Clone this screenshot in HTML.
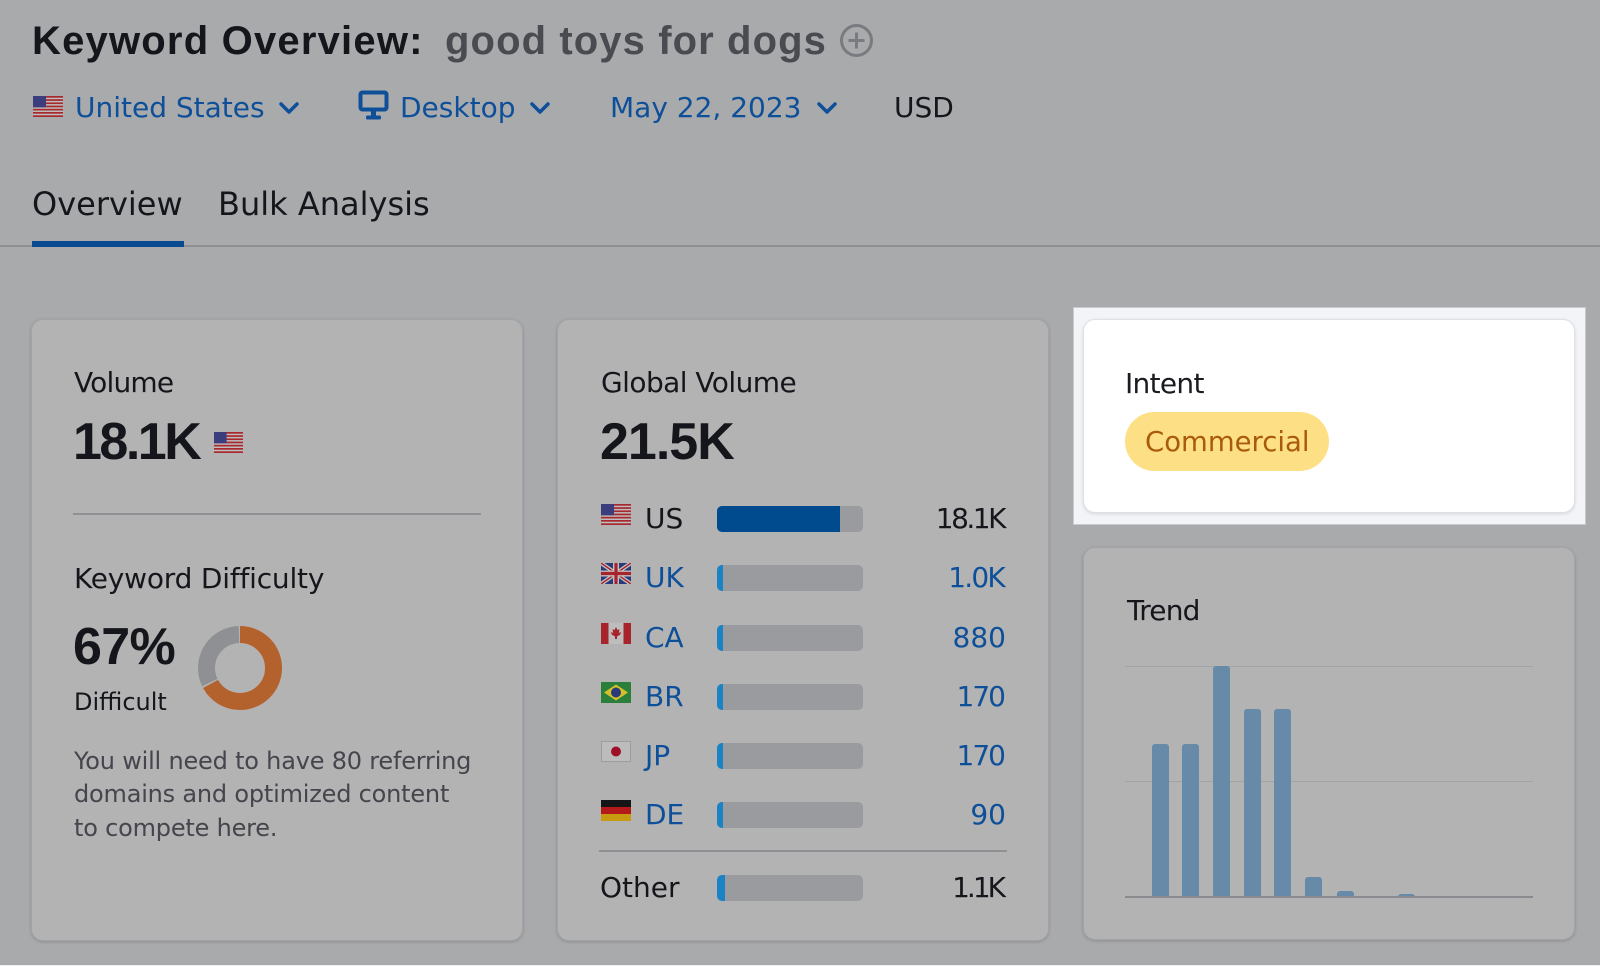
<!DOCTYPE html>
<html><head><meta charset="utf-8">
<style>
*{margin:0;padding:0;box-sizing:border-box}
html,body{width:1600px;height:966px;overflow:hidden;background:#a9aaac}
body{position:relative;font-family:"DejaVu Sans","Liberation Sans",sans-serif;color:#15161b}
.a{position:absolute;white-space:nowrap;line-height:1}
.lib{font-family:"Liberation Sans",sans-serif}
.b{font-weight:bold}
.blue{color:#0e4f99}
.card{position:absolute;background:#b3b3b3;border:1px solid #a3a4a7;border-radius:12px;box-shadow:0 1px 3px rgba(0,0,0,0.18)}
.track{position:absolute;left:717px;width:146px;height:26px;background:#9a9b9f;border-radius:5px;overflow:hidden}
.track i{position:absolute;left:0;top:0;bottom:0;background:#1b83c5}
.val{position:absolute;right:594px;text-align:right;font-size:28px;line-height:1;white-space:nowrap}
.lbl{position:absolute;left:645px;font-size:28px;line-height:1}
.flag{position:absolute;left:601px}
.bar{position:absolute;width:17px;background:#678aa9;border-radius:3px 3px 0 0}
</style></head><body>

<!-- Header -->
<div class="a lib b" style="left:32px;top:21px;font-size:40px;letter-spacing:1.2px;color:#15161b">Keyword Overview:</div>
<div class="a lib b" style="left:445px;top:21px;font-size:40px;letter-spacing:1.1px;color:#4a4b51">good toys for dogs</div>
<svg class="a" style="left:839px;top:23px" width="35" height="35" viewBox="0 0 35 35">
<circle cx="17.5" cy="17.5" r="15" fill="none" stroke="#7a7b80" stroke-width="3"/>
<path d="M17.5 9.5v16M9.5 17.5h16" stroke="#7a7b80" stroke-width="3"/>
</svg>

<!-- Row 2 -->
<svg class="a" style="left:33px;top:96px" width="30" height="21" viewBox="0 0 30 21">
<rect width="30" height="21" fill="#bdbdbd"/>
<g fill="#a8282e"><rect y="0" width="30" height="1.7"/><rect y="3.2" width="30" height="1.7"/><rect y="6.4" width="30" height="1.7"/><rect y="9.6" width="30" height="1.7"/><rect y="12.8" width="30" height="1.7"/><rect y="16" width="30" height="1.7"/><rect y="19.3" width="30" height="1.7"/></g>
<rect width="13" height="11.3" fill="#3b3d7c"/>
</svg>
<div class="a blue" style="left:75px;top:94px;font-size:28px">United States</div>
<svg class="a" style="left:278px;top:101px" width="22" height="14" viewBox="0 0 22 14"><polyline points="3,3 11,11 19,3" fill="none" stroke="#0e4f99" stroke-width="3.5" stroke-linecap="round" stroke-linejoin="round"/></svg>

<svg class="a" style="left:358px;top:90px" width="31" height="31" viewBox="0 0 31 31">
<rect x="2.5" y="2.5" width="26" height="17" rx="2" fill="none" stroke="#0e4f99" stroke-width="4"/>
<rect x="13" y="21" width="5" height="5" fill="#0e4f99"/>
<rect x="8" y="25.5" width="15" height="4" rx="1.5" fill="#0e4f99"/>
</svg>
<div class="a blue" style="left:400px;top:94px;font-size:28px">Desktop</div>
<svg class="a" style="left:529px;top:101px" width="22" height="14" viewBox="0 0 22 14"><polyline points="3,3 11,11 19,3" fill="none" stroke="#0e4f99" stroke-width="3.5" stroke-linecap="round" stroke-linejoin="round"/></svg>

<div class="a blue" style="left:610px;top:94px;font-size:28px">May 22, 2023</div>
<svg class="a" style="left:816px;top:101px" width="22" height="14" viewBox="0 0 22 14"><polyline points="3,3 11,11 19,3" fill="none" stroke="#0e4f99" stroke-width="3.5" stroke-linecap="round" stroke-linejoin="round"/></svg>

<div class="a" style="left:894px;top:94px;font-size:28px;color:#15161b">USD</div>

<!-- Tabs -->
<div class="a" style="left:32px;top:188px;font-size:32px">Overview</div>
<div class="a" style="left:218px;top:188px;font-size:32px">Bulk Analysis</div>
<div class="a" style="left:0;top:245px;width:1600px;height:2px;background:#8f9094"></div>
<div class="a" style="left:32px;top:241px;width:152px;height:6px;background:#0a4a91"></div>

<!-- Card 1 -->
<div class="card" style="left:31px;top:319px;width:492px;height:622px"></div>
<div class="a" style="left:74px;top:369px;font-size:28px;letter-spacing:-0.8px">Volume</div>
<div class="a lib b" style="left:73px;top:416px;font-size:52px;letter-spacing:-2.5px">18.1K</div>
<svg class="a" style="left:214px;top:432px" width="29" height="21" viewBox="0 0 30 21" preserveAspectRatio="none">
<rect width="30" height="21" fill="#bdbdbd"/>
<g fill="#a8282e"><rect y="0" width="30" height="1.7"/><rect y="3.2" width="30" height="1.7"/><rect y="6.4" width="30" height="1.7"/><rect y="9.6" width="30" height="1.7"/><rect y="12.8" width="30" height="1.7"/><rect y="16" width="30" height="1.7"/><rect y="19.3" width="30" height="1.7"/></g>
<rect width="13" height="11.3" fill="#3b3d7c"/>
</svg>
<div class="a" style="left:73px;top:513px;width:408px;height:2px;background:#8f9093"></div>
<div class="a" style="left:74px;top:565px;font-size:28px;letter-spacing:-0.2px">Keyword Difficulty</div>
<div class="a lib b" style="left:73px;top:621px;font-size:52px;letter-spacing:-0.7px">67%</div>
<svg class="a" style="left:196px;top:624px" width="88" height="88" viewBox="0 0 88 88">
<g transform="rotate(-90 44 44)">
<circle cx="44" cy="44" r="33.5" fill="none" stroke="#b4622d" stroke-width="17" stroke-dasharray="141 69.5"/>
<circle cx="44" cy="44" r="33.5" fill="none" stroke="#8f9094" stroke-width="17" stroke-dasharray="0 142.5 66.5 1.5"/>
</g>
</svg>
<div class="a" style="left:74px;top:690px;font-size:24px">Difficult</div>
<div class="a" style="left:74px;top:745px;font-size:24px;line-height:33.3px;letter-spacing:-0.2px;color:#45464d">You will need to have 80 referring<br>domains and optimized content<br>to compete here.</div>

<!-- Card 2 -->
<div class="card" style="left:557px;top:319px;width:492px;height:622px"></div>
<div class="a" style="left:601px;top:369px;font-size:28px;letter-spacing:-0.55px">Global Volume</div>
<div class="a lib b" style="left:600px;top:416px;font-size:52px;letter-spacing:-1px">21.5K</div>

<!-- US row -->
<svg class="flag" style="top:504px" width="30" height="21" viewBox="0 0 30 21">
<rect width="30" height="21" fill="#bdbdbd"/>
<g fill="#a8282e"><rect y="0" width="30" height="1.7"/><rect y="3.2" width="30" height="1.7"/><rect y="6.4" width="30" height="1.7"/><rect y="9.6" width="30" height="1.7"/><rect y="12.8" width="30" height="1.7"/><rect y="16" width="30" height="1.7"/><rect y="19.3" width="30" height="1.7"/></g>
<rect width="13" height="11.3" fill="#3b3d7c"/>
</svg>
<div class="lbl" style="top:505px">US</div>
<div class="track" style="top:506px"><i style="width:123px;background:#004b8e"></i></div>
<div class="val" style="top:505px;color:#15161b;letter-spacing:-2.5px;right:596px">18.1K</div>

<!-- UK row -->
<svg class="flag" style="top:563px" width="30" height="21" viewBox="0 0 30 21">
<rect width="30" height="21" fill="#2a3a78"/>
<path d="M0 0L30 21M30 0L0 21" stroke="#c0c0c0" stroke-width="4"/>
<path d="M0 0L30 21M30 0L0 21" stroke="#a8242c" stroke-width="1.4"/>
<path d="M15 0V21M0 10.5H30" stroke="#c0c0c0" stroke-width="6"/>
<path d="M15 0V21M0 10.5H30" stroke="#a8242c" stroke-width="3.2"/>
</svg>
<div class="lbl blue" style="top:564px">UK</div>
<div class="track" style="top:565px"><i style="width:6px"></i></div>
<div class="val blue" style="top:564px;letter-spacing:-1.8px;right:596px">1.0K</div>

<!-- CA row -->
<svg class="flag" style="top:623px" width="30" height="21" viewBox="0 0 30 21">
<rect width="30" height="21" fill="#bdbdbd"/>
<rect width="7.5" height="21" fill="#a8242c"/><rect x="22.5" width="7.5" height="21" fill="#a8242c"/>
<path d="M15 4L16.5 7L18.5 6.2L17.8 10L20 9L19.3 11.5L16 13.5V16H14V13.5L10.7 11.5L10 9L12.2 10L11.5 6.2L13.5 7Z" fill="#a8242c"/>
</svg>
<div class="lbl blue" style="top:624px">CA</div>
<div class="track" style="top:625px"><i style="width:6px"></i></div>
<div class="val blue" style="top:624px">880</div>

<!-- BR row -->
<svg class="flag" style="top:682px" width="30" height="21" viewBox="0 0 30 21">
<rect width="30" height="21" fill="#2a7f3a"/>
<path d="M15 2.5L27 10.5L15 18.5L3 10.5Z" fill="#d3c12b"/>
<circle cx="15" cy="10.5" r="5" fill="#2a3a78"/>
</svg>
<div class="lbl blue" style="top:683px">BR</div>
<div class="track" style="top:683.5px"><i style="width:6px"></i></div>
<div class="val blue" style="top:683px;letter-spacing:-2px;right:596px">170</div>

<!-- JP row -->
<svg class="flag" style="top:741px" width="30" height="21" viewBox="0 0 30 21">
<rect x="0.5" y="0.5" width="29" height="20" fill="#bcbcbc" stroke="#9d9d9f"/>
<circle cx="15" cy="10.5" r="5" fill="#9e1028"/>
</svg>
<div class="lbl blue" style="top:742px">JP</div>
<div class="track" style="top:743px"><i style="width:6px"></i></div>
<div class="val blue" style="top:742px;letter-spacing:-2px;right:596px">170</div>

<!-- DE row -->
<svg class="flag" style="top:800px" width="30" height="21" viewBox="0 0 30 21">
<rect width="30" height="7" fill="#151515"/>
<rect y="7" width="30" height="7" fill="#b51a1a"/>
<rect y="14" width="30" height="7" fill="#c89a10"/>
</svg>
<div class="lbl blue" style="top:801px">DE</div>
<div class="track" style="top:802px"><i style="width:6px"></i></div>
<div class="val blue" style="top:801px">90</div>

<div class="a" style="left:599px;top:850px;width:408px;height:2px;background:#8f9093"></div>
<div class="a" style="left:600px;top:874px;font-size:28px">Other</div>
<div class="track" style="top:875px"><i style="width:8px"></i></div>
<div class="val" style="top:874px;color:#15161b;letter-spacing:-3px;right:597px">1.1K</div>

<!-- Intent highlight -->
<div class="a" style="left:1073px;top:307px;width:513px;height:218px;background:#f3f4f8;border:1px solid #c9cacd"></div>
<div class="a" style="left:1083px;top:319px;width:492px;height:194px;background:#ffffff;border:1px solid #e0e1e5;border-radius:12px;box-shadow:0 1px 3px rgba(0,0,0,0.12)"></div>
<div class="a" style="left:1125px;top:370px;font-size:28px;letter-spacing:-0.7px;color:#1b1c22">Intent</div>
<div class="a" style="left:1125px;top:412px;width:204px;height:59px;background:#fde085;border-radius:30px"></div>
<div class="a" style="left:1145px;top:429px;font-size:27.5px;color:#aa5a0b">Commercial</div>

<!-- Trend card -->
<div class="card" style="left:1083px;top:547px;width:492px;height:393px"></div>
<div class="a" style="left:1127px;top:597px;font-size:28px;letter-spacing:-0.8px">Trend</div>
<div class="a" style="left:1125px;top:666px;width:408px;height:1px;background:#a2a3a6"></div>
<div class="a" style="left:1125px;top:781px;width:408px;height:1px;background:#a2a3a6"></div>
<div class="bar" style="left:1152px;top:744px;height:153px"></div>
<div class="bar" style="left:1182px;top:744px;height:153px"></div>
<div class="bar" style="left:1213px;top:666px;height:231px"></div>
<div class="bar" style="left:1244px;top:709px;height:188px"></div>
<div class="bar" style="left:1274px;top:709px;height:188px"></div>
<div class="bar" style="left:1305px;top:877px;height:20px"></div>
<div class="bar" style="left:1337px;top:891px;height:6px"></div>
<div class="bar" style="left:1398px;top:894px;height:3px"></div>
<div class="a" style="left:1125px;top:896px;width:408px;height:2px;background:#8a8b8f"></div>

<div class="a" style="left:0;top:965px;width:1600px;height:1px;background:#eeeeee"></div>
</body></html>
